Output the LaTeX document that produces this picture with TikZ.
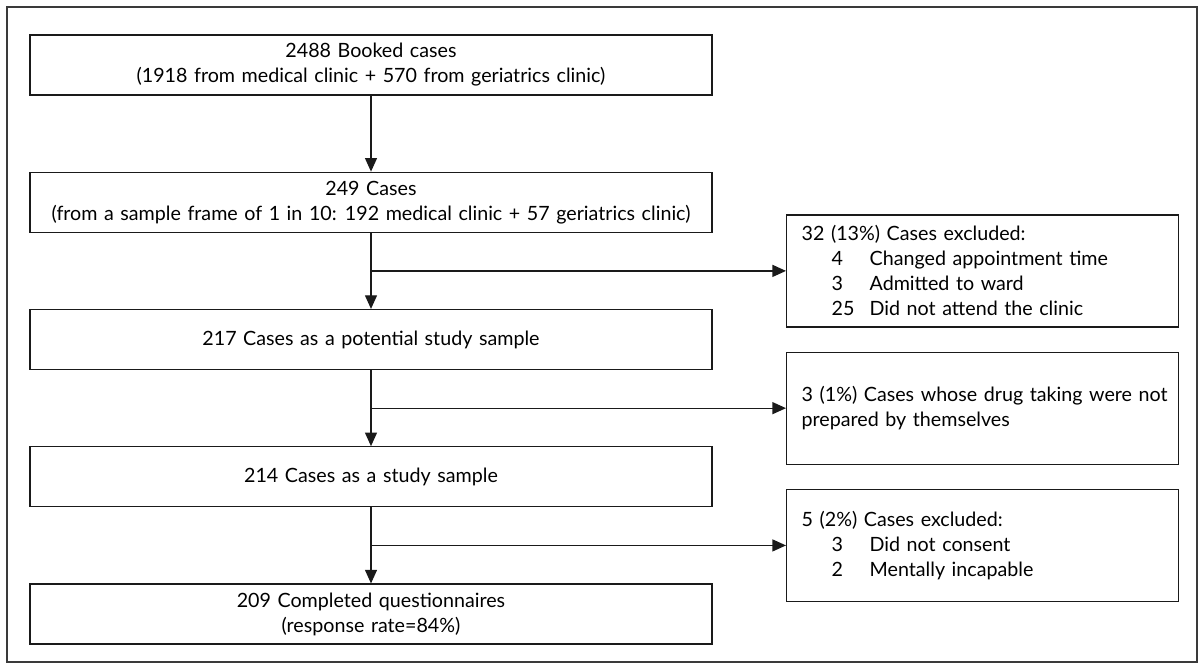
\documentclass[tikz,border=0pt]{standalone}
\usepackage{fontspec}
\setmainfont{Lato}[WordSpace=1.3]
\usepackage{tikz}
\usetikzlibrary{arrows.meta,positioning,calc}
\definecolor{edge}{HTML}{1A1A1A}
\definecolor{framegray}{HTML}{3A3A3A}
\newcommand{\exclitem}[2]{\hspace*{7.5mm}\makebox[9.5mm][l]{#1}#2}

\begin{document}
\begin{tikzpicture}[
    font=\fontsize{14}{17.8}\selectfont,
    node distance=1.9cm,
    stage/.style={draw=edge,line width=0.9pt,minimum width=17.05cm,minimum height=1.5cm,inner ysep=1pt,align=center},
    excl/.style={draw=edge,line width=0.9pt,text width=9.05cm,inner xsep=3.75mm,minimum height=2.8cm,align=left},
    arr/.style={-{Triangle[length=3.4mm,width=3mm]},line width=0.9pt,draw=edge}
]
    \useasboundingbox (0,0) rectangle (30.075,-16.6);
    \draw[framegray,line width=0.9pt] (0.175,-0.175) rectangle (29.925,-16.55);

    \node[stage] at (9.275,-1.625) (booked) {2488 Booked cases\\(1918 from medical clinic + 570 from geriatrics clinic)};
    \node[stage,below=of booked] (cases) {249 Cases\\(from a sample frame of 1 in 10: 192 medical clinic + 57 geriatrics clinic)};
    \node[stage,below=of cases] (potential) {217 Cases as a potential study sample};
    \node[stage,below=of potential] (sample) {214 Cases as a study sample};
    \node[stage,below=of sample] (done) {209 Completed questionnaires\\(response rate=84\%)};

    % branch points between the stages
    \coordinate (m1) at ($(cases.south)!0.5!(potential.north)$);
    \coordinate (m2) at ($(potential.south)!0.5!(sample.north)$);
    \coordinate (m3) at ($(sample.south)!0.5!(done.north)$);

    \node[excl,right=10.375cm of m1] (excl1) {32 (13\%) Cases excluded:\\
        \exclitem{4}{Changed appointment time}\\
        \exclitem{3}{Admitted to ward}\\
        \exclitem{25}{Did not attend the clinic}};
    \node[excl,right=10.375cm of m2] (excl2) {\mbox{3 (1\%) Cases whose drug taking were not}\\prepared by themselves};
    \node[excl,right=10.375cm of m3] (excl3) {5 (2\%) Cases excluded:\\
        \exclitem{3}{Did not consent}\\
        \exclitem{2}{Mentally incapable}};

    \draw[arr] (booked) -- (cases);
    \draw[arr] (cases) -- (potential);
    \draw[arr] (potential) -- (sample);
    \draw[arr] (sample) -- (done);
    \draw[arr] (m1) -- (excl1);
    \draw[arr] (m2) -- (excl2);
    \draw[arr] (m3) -- (excl3);
\end{tikzpicture}
\end{document}
